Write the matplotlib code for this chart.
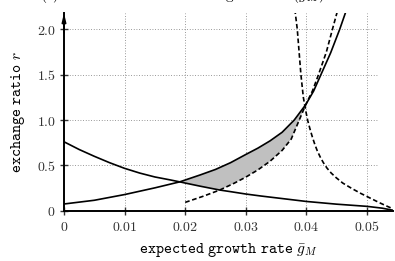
import numpy as np
import matplotlib
matplotlib.use("Agg")
import matplotlib.pyplot as plt

plt.rcParams['mathtext.fontset'] = 'cm'

# solid, decreasing
dec_x = [0.0, 0.0025, 0.005, 0.0075, 0.010, 0.0125, 0.015, 0.0175, 0.0191, 0.020,
         0.0225, 0.0257, 0.0275, 0.030, 0.0325, 0.035, 0.0375, 0.040, 0.0425,
         0.045, 0.0475, 0.050, 0.0525, 0.0543]
dec_r = [0.760, 0.675, 0.600, 0.530, 0.467, 0.415, 0.372, 0.340, 0.318, 0.305,
         0.270, 0.228, 0.210, 0.184, 0.162, 0.142, 0.122, 0.102, 0.087,
         0.072, 0.060, 0.048, 0.028, 0.005]

# solid, increasing
inc_x = [0.0, 0.005, 0.010, 0.015, 0.0191, 0.0225, 0.025, 0.0275, 0.030, 0.032,
         0.034, 0.036, 0.038, 0.0399, 0.0412, 0.0424, 0.044, 0.0455, 0.0468]
inc_r = [0.074, 0.115, 0.178, 0.252, 0.318, 0.395, 0.455, 0.530, 0.620, 0.690,
         0.770, 0.865, 1.000, 1.170, 1.320, 1.500, 1.740, 2.000, 2.250]

# dashed, increasing
dinc_x = [0.020, 0.023, 0.0257, 0.028, 0.030, 0.032, 0.034, 0.036, 0.0375,
          0.0399, 0.041, 0.042, 0.0433, 0.0443, 0.0452]
dinc_r = [0.092, 0.160, 0.228, 0.300, 0.370, 0.450, 0.545, 0.665, 0.790,
          1.170, 1.320, 1.500, 1.750, 2.000, 2.220]

# dashed, decreasing
ddec_x = [0.0381, 0.0385, 0.0388, 0.0391, 0.0395, 0.0399, 0.0402, 0.0406, 0.041,
          0.0414, 0.0418, 0.0423, 0.0428, 0.0434, 0.0441, 0.0449, 0.046, 0.0475,
          0.049, 0.0505, 0.052, 0.0533, 0.0543]
ddec_r = [2.22, 2.00, 1.75, 1.50, 1.25, 1.10, 1.00, 0.90, 0.81,
          0.73, 0.66, 0.59, 0.53, 0.47, 0.415, 0.365, 0.305, 0.245,
          0.19, 0.14, 0.09, 0.05, 0.02]

xticks = [0, 0.01, 0.02, 0.03, 0.04, 0.05]
xtick_labels = ['$0$', '$0.01$', '$0.02$', '$0.03$', '$0.04$', '$0.05$']
yticks = [0, 0.5, 1.0, 1.5, 2.0]
ytick_labels = ['$0$', '$0.5$', '$1.0$', '$1.5$', '$2.0$']

fig = plt.figure(figsize=(3.95, 2.61), dpi=100)
ax = fig.add_axes([0.162, 0.1927, 0.833, 0.7575])

# shaded band: upper = solid increasing, lower = solid decreasing then dashed increasing
up_x = np.array(inc_x[4:14])
up_r = np.array(inc_r[4:14])
lo_x = np.array(dec_x[8:12] + dinc_x[3:10])
lo_r = np.array(dec_r[8:12] + dinc_r[3:10])
ax.fill(np.concatenate([up_x, lo_x[::-1]]), np.concatenate([up_r, lo_r[::-1]]),
        color='#c0c0c0', lw=0, zorder=1)

dash = (0, (2.8, 1.6))
ax.plot(dec_x, dec_r, color='k', lw=1.2, zorder=3)
ax.plot(inc_x, inc_r, color='k', lw=1.2, zorder=3)
ax.plot(dinc_x, dinc_r, color='k', lw=1.2, ls=dash, zorder=3)
ax.plot(ddec_x, ddec_r, color='k', lw=1.2, ls=dash, zorder=3)

# dotted grid
for x in xticks[1:]:
    ax.axvline(x, color='#777777', lw=0.6, ls=(0, (1, 2.2)), zorder=0)
for y in yticks[1:]:
    ax.axhline(y, xmax=0.955, color='#777777', lw=0.6, ls=(0, (1, 2.2)), zorder=0)

ax.set_xlim(0, 0.0543)
ax.set_ylim(0, 2.18)
ax.set_xticks(xticks)
ax.set_xticklabels(xtick_labels)
ax.set_yticks(yticks)
ax.set_yticklabels(ytick_labels)
ax.tick_params(direction='inout', length=6, width=1.0, labelsize=10, colors='#333333')
ax.tick_params(axis='x', pad=4)
ax.tick_params(axis='y', pad=3)

for s in ['top', 'right']:
    ax.spines[s].set_visible(False)
for s in ['left', 'bottom']:
    ax.spines[s].set_linewidth(1.4)

ax.annotate('', xy=(0, 1.0), xycoords='axes fraction', xytext=(0, 0.9),
            arrowprops=dict(arrowstyle='-|>,head_length=0.5,head_width=0.12',
                            color='k', lw=1.2, shrinkA=0, shrinkB=0))

ax.set_xlabel(r'$\mathtt{expected\ growth\ rate}\ \bar{g}_M$', fontsize=11, labelpad=5)
ax.set_ylabel(r'$\mathtt{exchange\ ratio}\ r$', fontsize=11, labelpad=7)

fig.text(0.10, 1.005, r'$\mathrm{(c)\ Set\ of\ admissible\ exchange\ ratios}\ r(\bar{g}_M)$',
         fontsize=11, va='baseline')

fig.savefig('out.png', dpi=100)
